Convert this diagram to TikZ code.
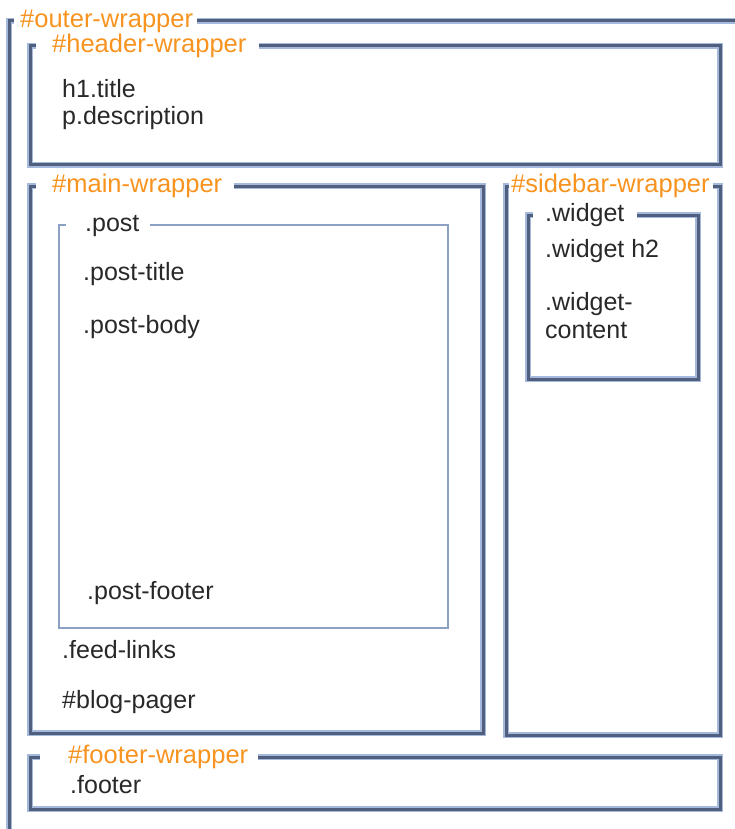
\documentclass[tikz,border=0pt]{standalone}
\usepackage{fontspec}
\setmainfont{Liberation Sans}
\definecolor{framecol}{RGB}{80,95,125}
\definecolor{shadowcol}{RGB}{165,185,220}
\definecolor{postcol}{RGB}{140,160,195}
\definecolor{labelcol}{RGB}{247,147,30}
\definecolor{textcol}{RGB}{40,40,40}

\begin{document}
\fontsize{25}{30}\selectfont
\begin{tikzpicture}[x=1pt,y=-1pt,
	frame/.style={
	  draw=framecol,
	  line width=3pt,
	  preaction={draw=shadowcol, line width=5.5pt}
	},
	postframe/.style={draw=postcol, line width=1.6pt},
	idlabel/.style={anchor=mid west, inner sep=0pt, text=labelcol, font=\fontsize{25.5}{30}\selectfont},
	item/.style={anchor=base west, inner sep=0pt, text=textcol}
	]
	\useasboundingbox (0,0) rectangle (734,829);
	% outer wrapper
	\node at (20,21) [idlabel] (outer) {\#outer-wrapper};
	\draw [frame] ([xshift=4pt]outer.mid east) -- (745,21);
	\draw [frame] ([xshift=-6pt]outer.mid west) -- (9,21) -- (9,840);
	% header wrapper
	\node at (52,46) [idlabel] (header) {\#header-wrapper};
	\node at (62,98) [item] (title) {h1.title};
	\node at (62,125) [item] (descr) {p.description};
	\draw [frame] ([xshift=12pt]header.mid east) -- (720,46) -- (720,165) -- (30,165) -- (30,46) -- ([xshift=-16pt]header.mid west);
	% main wrapper
	\node at (52,186) [idlabel] (main) {\#main-wrapper};
	\draw [frame] ([xshift=12pt]main.mid east) -- (483,186) -- (483,733) -- (30,733) -- (30,186) -- ([xshift=-16pt]main.mid west);
	\node at (85,225) [item, anchor=mid west] (post) {.post};
	\draw [postframe] ([xshift=10pt]post.mid east) -- (448,225) -- (448,628) -- (59,628) -- (59,225) -- ([xshift=-19pt]post.mid west);
	\node at (83,280) [item] (ptitle) {.post-title};
	\node at (83,333) [item] (pbody) {.post-body};
	\node at (87,599) [item] (pfooter) {.post-footer};
	\node at (62,658) [item] (feed) {.feed-links};
	\node at (62,708) [item] (pager) {\#blog-pager};
	% sidebar wrapper
	\node at (511,186) [idlabel] (sidebar) {\#sidebar-wrapper};
	\draw [frame] ([xshift=3pt]sidebar.mid east) -- (720,186) -- (720,735) -- (506,735) -- (506,186) -- ([xshift=-2pt]sidebar.mid west);
	\node at (545,215) [item, anchor=mid west] (widget) {.widget};
	\draw [frame] ([xshift=12pt]widget.mid east) -- (698,215) -- (698,379) -- (528,379) -- (528,215) -- ([xshift=-12pt]widget.mid west);
	\node at (545,257) [item] (wtitle) {.widget h2};
	\node at (545,310) [item] (wcont) {.widget-};
	\node at (545,338) [item] (wcont2) {content};
	% footer wrapper
	\node at (68,757) [idlabel] (footer) {\#footer-wrapper};
	\draw [frame] ([xshift=10pt]footer.mid east) -- (720,757) -- (720,809) -- (30,809) -- (30,757) -- ([xshift=-28pt]footer.mid west);
	\node at (70,793) [item] (foot) {.footer};
  \end{tikzpicture}
\end{document}
